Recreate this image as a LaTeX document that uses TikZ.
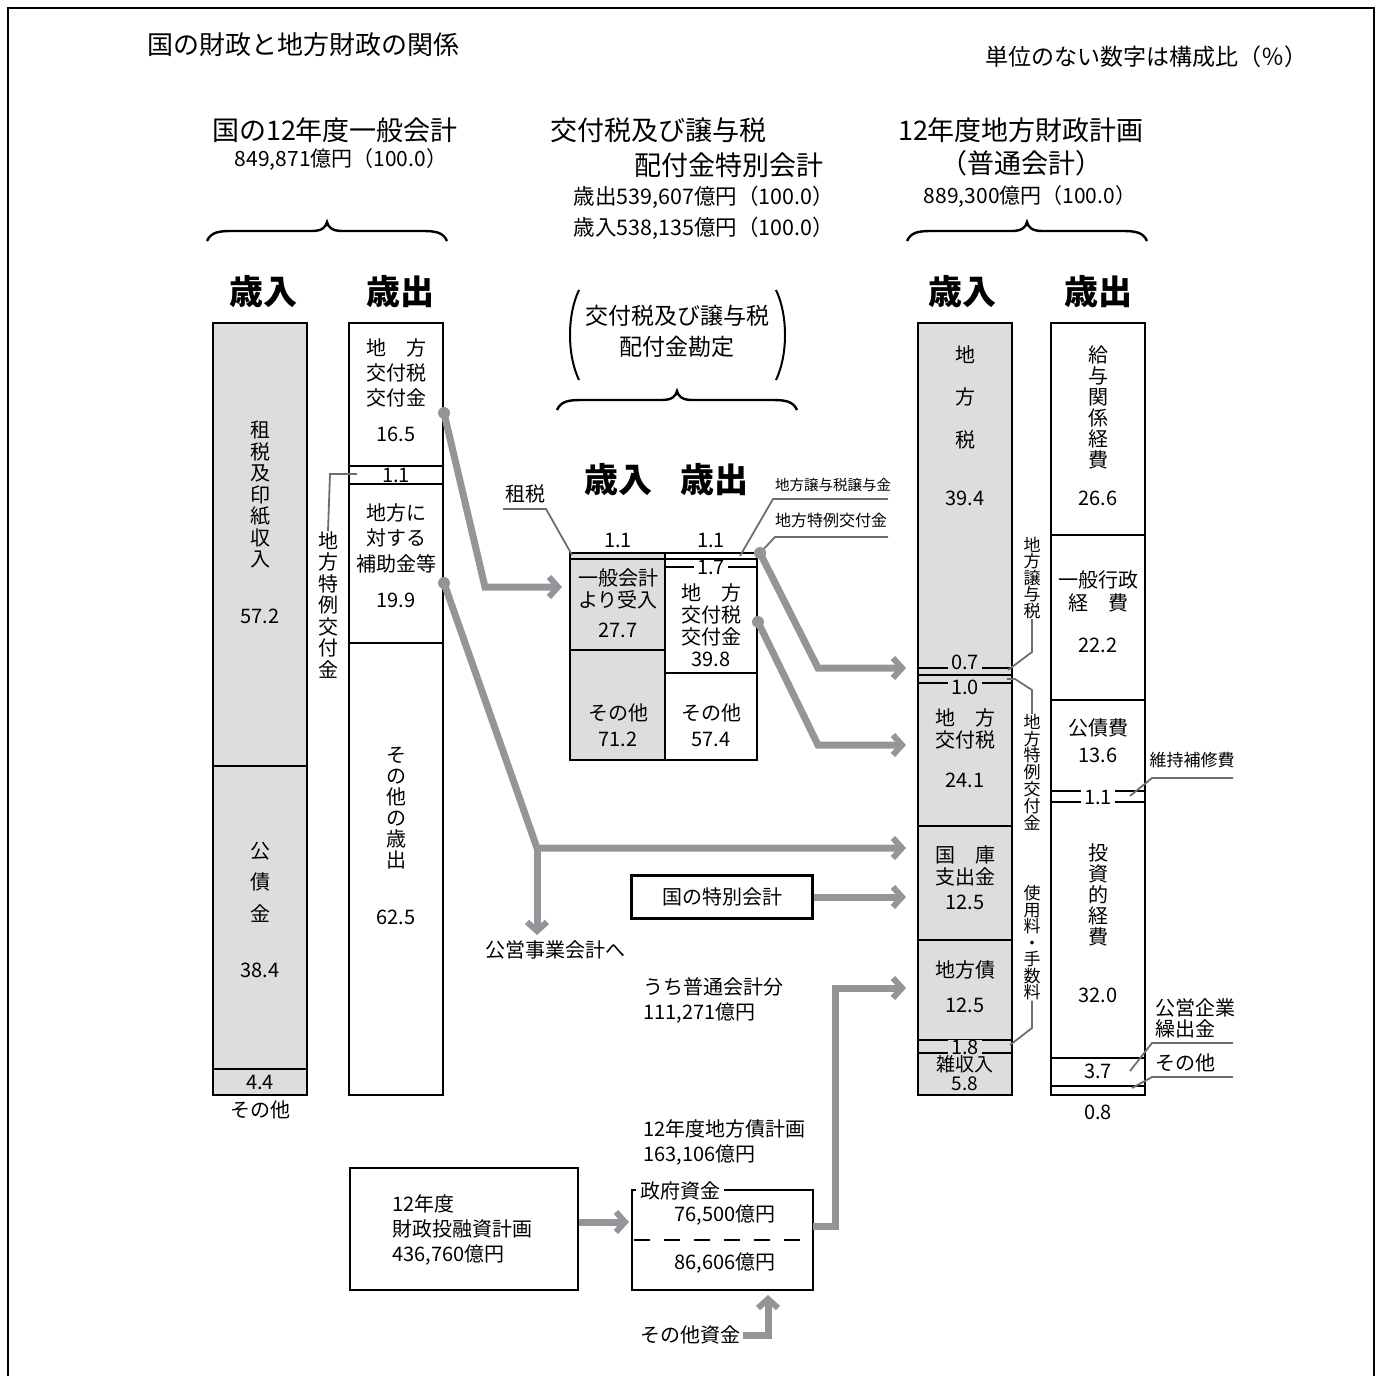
\documentclass[tikz,border=0pt]{standalone}
\usepackage{fontspec}
\setmainfont{Noto Sans CJK JP}
\usetikzlibrary{arrows.meta}
\definecolor{colfill}{HTML}{DCDDDF}
\definecolor{arrgray}{HTML}{939598}
\definecolor{leadgray}{HTML}{6D6E71}
\tikzset{
  txt/.style={inner sep=0pt, align=center, font=\fontsize{20}{25}\selectfont},
  small/.style={inner sep=0pt, align=left, font=\fontsize{16}{18}\selectfont},
  head/.style={inner sep=0pt, align=center, font=\fontsize{27}{30}\selectfont},
  big/.style={inner sep=0pt, font=\fontsize{34}{34}\selectfont\bfseries},
  colbox/.style={draw=black, line width=2.6pt},
  divline/.style={draw=black, line width=2.6pt},
  garrow/.style={draw=arrgray, line width=7pt, line join=miter,
     -{Straight Barb[length=9pt,width=20pt,line width=6pt]}},
  lead/.style={draw=leadgray, line width=1.8pt},
  gdot/.style={circle, fill=arrgray, minimum size=12pt, inner sep=0pt},
  topbrace/.pic={\draw[line width=2.4pt] (-120,19) .. controls (-116,10) and (-108,9) .. (-95,9) -- (-15,9) .. controls (-5,9) and (-1,5) .. (0,0) .. controls (1,5) and (5,9) .. (15,9) -- (95,9) .. controls (108,9) and (116,10) .. (120,19);}
}
\begin{document}
\begin{tikzpicture}[x=1pt,y=-1pt]
\useasboundingbox (0,0) rectangle (1382,1376);
% frame
\draw[line width=1.5pt] (8,1380) -- (8,8) -- (1374,8) -- (1374,1380);

% titles
\node[txt, font=\fontsize{26}{28}\selectfont] (title) at (303,45) {国の財政と地方財政の関係};
\node[txt, font=\fontsize{23}{26}\selectfont] (unit) at (1146,57) {単位のない数字は構成比（％）};

\node[head] (h1) at (335,130) {国の12年度一般会計};
\node[txt, font=\fontsize{21}{25}\selectfont] (h1b) at (341,160) {849,871億円（100.0）};
\node[head] (h2a) at (658,130) {交付税及び譲与税};
\node[head] (h2b) at (729,165) {配付金特別会計};
\node[txt, font=\fontsize{21.5}{25}\selectfont] (h2c) at (704,197) {歳出539,607億円（100.0）};
\node[txt, font=\fontsize{21.5}{25}\selectfont] (h2d) at (704,228) {歳入538,135億円（100.0）};
\node[head] (h3a) at (1021,130) {12年度地方財政計画};
\node[head] (h3b) at (1021,163) {（普通会計）};
\node[txt, font=\fontsize{21}{25}\selectfont] (h3c) at (1030,197) {889,300億円（100.0）};

\pic at (327,222) {topbrace};
\pic at (1027,222) {topbrace};
\pic at (677,391) {topbrace};

\node[big] (lin) at (263,292) {歳入};
\node[big] (lout) at (400,292) {歳出};
\node[big] (rin) at (962,292) {歳入};
\node[big] (rout) at (1098,292) {歳出};
\node[big] (min) at (618,480) {歳入};
\node[big] (mout) at (714,480) {歳出};

% middle paren label
\node[txt, font=\fontsize{23}{31}\selectfont] (mlab) at (677,331) {交付税及び譲与税\\配付金勘定};
\draw[line width=2pt] (579,290) .. controls (567,315) and (567,355) .. (579,380);
\draw[line width=2pt] (776,290) .. controls (788,315) and (788,355) .. (776,380);

% ===== left columns =====
\fill[colfill] (213,323) rectangle (307,1095);
\draw[divline] (213,766) -- (307,766);
\draw[divline] (213,1069) -- (307,1069);
\draw[colbox] (213,323) rectangle (307,1095);
\node[txt, font=\fontsize{20}{21.5}\selectfont] (l1) at (260,495) {租\\税\\及\\印\\紙\\収\\入};
\node[txt] (l1n) at (260,616) {57.2};
\node[txt, font=\fontsize{20}{31.5}\selectfont] (l2) at (260,882) {公\\債\\金};
\node[txt] (l2n) at (260,970) {38.4};
\node[txt] (l3n) at (260,1082) {4.4};
\node[txt] (l3) at (260,1110) {その他};

\draw[divline] (349,466) -- (443,466);
\draw[divline] (349,484) -- (443,484);
\draw[divline] (349,643) -- (443,643);
\draw[colbox] (349,323) rectangle (443,1095);
\node[txt] (e1) at (396,373) {地　方\\交付税\\交付金};
\node[txt] (e1n) at (396,434) {16.5};
\node[txt, fill=white, inner xsep=3pt, inner ysep=0pt] (e2n) at (396,475) {1.1};
\node[txt, font=\fontsize{20}{25.5}\selectfont] (e3) at (396,538) {地方に\\対する\\補助金等};
\node[txt] (e3n) at (396,600) {19.9};
\node[txt, font=\fontsize{20}{21}\selectfont] (e4) at (396,808) {そ\\の\\他\\の\\歳\\出};
\node[txt] (e4n) at (396,917) {62.5};

\node[txt, font=\fontsize{20}{21.5}\selectfont] (ltok) at (328,605) {地\\方\\特\\例\\交\\付\\金};
\coordinate (ltokA) at (357,474);
\draw[lead] (ltokA) -- (330,474) -- (ltok.north);

% ===== middle table =====
\fill[colfill] (570,553) rectangle (665,760);
\draw[divline] (570,559) -- (757,559);
\draw[divline] (665,567) -- (757,567);
\draw[divline] (570,650) -- (665,650);
\draw[divline] (665,673) -- (757,673);
\draw[divline] (665,553) -- (665,760);
\draw[colbox] (570,553) rectangle (757,760);
\node[txt] (m11) at (618,540) {1.1};
\node[txt] (m12) at (711,540) {1.1};
\node[txt, font=\fontsize{20}{22}\selectfont] (m2) at (618,589) {一般会計\\より受入};
\node[txt] (m2n) at (618,630) {27.7};
\node[txt, font=\fontsize{20}{26}\selectfont] (m3) at (618,725) {その他\\71.2};
\node[txt, fill=white, inner xsep=3pt] (m4n) at (711,567) {1.7};
\node[txt, font=\fontsize{20}{22}\selectfont] (m5) at (711,625) {地　方\\交付税\\交付金\\39.8};
\node[txt, font=\fontsize{20}{26}\selectfont] (m6) at (711,725) {その他\\57.4};

\node[txt] (sozei) at (525,494) {租税};
\coordinate (sozeiA) at (572,555);
\draw[lead] (503,509) -- (546,509) -- (sozeiA);
\node[small, anchor=west, font=\fontsize{14.5}{16}\selectfont] (jyoyo) at (775,485) {地方譲与税譲与金};
\coordinate (jyoyoA) at (740,556);
\draw[lead] (888,499) -- (773,499) -- (jyoyoA);
\node[small, anchor=west] (tokrei) at (775,520) {地方特例交付金};
\coordinate (tokreiA) at (760,553);
\draw[lead] (888,537) -- (775,537) -- (tokreiA);

% ===== right columns =====
\fill[colfill] (918,323) rectangle (1012,1095);
\foreach \yy in {668,675,683,826,940,1040,1053} \draw[divline] (918,\yy) -- (1012,\yy);
\draw[colbox] (918,323) rectangle (1012,1095);
\node[txt, font=\fontsize{20}{42.5}\selectfont] (r1) at (965,397) {地\\方\\税};
\node[txt] (r1n) at (965,498) {39.4};
\node[txt, fill=colfill, inner xsep=3pt] (r2n) at (965,662) {0.7};
\node[txt, fill=colfill, inner xsep=3pt] (r3n) at (965,687) {1.0};
\node[txt, font=\fontsize{20}{22}\selectfont] (r4) at (965,729) {地　方\\交付税};
\node[txt] (r4n) at (965,780) {24.1};
\node[txt, font=\fontsize{20}{22}\selectfont] (r5) at (965,866) {国　庫\\支出金};
\node[txt] (r5n) at (965,902) {12.5};
\node[txt] (r6) at (965,970) {地方債};
\node[txt] (r6n) at (965,1005) {12.5};
\node[txt, fill=colfill, inner xsep=3pt] (r7n) at (965,1047) {1.8};
\node[txt, font=\fontsize{19}{18.5}\selectfont] (r8) at (965,1073) {雑収入\\5.8};

\node[txt, font=\fontsize{17}{16.5}\selectfont] (rjy) at (1032,578) {地\\方\\譲\\与\\税};
\coordinate (rjyA) at (1008,670);
\draw[lead] (rjy.south) -- (1032,652) -- (rjyA);
\node[txt, font=\fontsize{17}{16.8}\selectfont] (rtk) at (1032,772) {地\\方\\特\\例\\交\\付\\金};
\coordinate (rtkA) at (1007,679);
\draw[lead] (rtkA) -- (1015,679) -- (1032,690) -- (rtk.north);
\node[txt, font=\fontsize{17}{16.5}\selectfont] (rsy) at (1032,943) {使\\用\\料\\・\\手\\数\\料};
\coordinate (rsyA) at (1010,1045);
\draw[lead] (rsy.south) -- (1032,1028) -- (rsyA);

\foreach \yy in {535,700,791,802,1058,1086} \draw[divline] (1051,\yy) -- (1145,\yy);
\draw[colbox] (1051,323) rectangle (1145,1095);
\node[txt, font=\fontsize{20}{21}\selectfont] (o1) at (1098,407) {給\\与\\関\\係\\経\\費};
\node[txt] (o1n) at (1098,498) {26.6};
\node[txt, font=\fontsize{20}{23}\selectfont] (o2) at (1098,591) {一般行政\\経　費};
\node[txt] (o2n) at (1098,645) {22.2};
\node[txt] (o3) at (1098,728) {公債費};
\node[txt] (o3n) at (1098,755) {13.6};
\node[txt, fill=white, inner xsep=3pt] (o4n) at (1098,797) {1.1};
\node[txt, font=\fontsize{20}{21}\selectfont] (o5) at (1098,895) {投\\資\\的\\経\\費};
\node[txt] (o5n) at (1098,995) {32.0};
\node[txt] (o6n) at (1098,1071) {3.7};
\node[txt] (o7n) at (1098,1112) {0.8};

\node[txt, font=\fontsize{17}{20}\selectfont] (iji) at (1192,760) {維持補修費};
\coordinate (ijiA) at (1130,796);
\draw[lead] (1233,778) -- (1152,778) -- (ijiA);
\node[txt, anchor=west, align=left, font=\fontsize{20}{21}\selectfont] (kuri) at (1155,1018) {公営企業\\繰出金};
\coordinate (kuriA) at (1130,1071);
\draw[lead] (1233,1043) -- (1152,1043) -- (kuriA);
\node[txt, anchor=west] (rsono) at (1155,1063) {その他};
\coordinate (rsonoA) at (1132,1088);
\draw[lead] (1233,1077) -- (1152,1077) -- (rsonoA);

% ===== lower middle =====
\node[txt, draw, line width=2.6pt, minimum width=181pt, minimum height=43pt] (tokubetsu) at (722,897) {国の特別会計};
\node[txt] (koei) at (555,950) {公営事業会計へ};
\node[txt, anchor=west, align=left] (uchi) at (643,1000) {うち普通会計分\\111,271億円};
\node[txt, anchor=west, align=left] (kisai) at (643,1142) {12年度地方債計画\\163,106億円};

\node[txt, draw, line width=2.6pt, minimum width=228pt, minimum height=122pt] (zaito) at (464,1229) {};
\node[txt, anchor=west, align=left] (zaitoT) at (392,1230) {12年度\\財政投融資計画\\436,760億円};

\draw[line width=2.6pt] (632,1190) rectangle (813,1290);
\node[inner sep=0pt, minimum width=181pt, minimum height=100pt] (bond) at (722.5,1240) {};
\draw[line width=2.6pt, dash pattern=on 16pt off 14pt] (634,1240) -- (813,1240);
\node[txt, fill=white, inner xsep=4pt, inner ysep=2pt] (seifu) at (680,1191) {政府資金};
\node[txt] (b1) at (725,1215) {76,500億円};
\node[txt] (b2) at (725,1263) {86,606億円};
\node[txt] (sonota) at (690,1335) {その他資金};

% ===== gray arrows =====
\coordinate (d1) at (444,413);
\coordinate (d2) at (444,583);
\coordinate (d3) at (760,553);
\coordinate (d4) at (758,622);
\coordinate (t1) at (562,587);
\coordinate (t2) at (906,848);
\coordinate (t2b) at (537,935);
\coordinate (t3) at (906,668);
\coordinate (t4) at (906,745);
\coordinate (t5) at (906,897);
\coordinate (t6) at (906,988);
\coordinate (t7) at (629,1222);
\coordinate (t8) at (768,1295);

\draw[garrow] (d1) -- (485,587) -- (t1);
\draw[garrow] (d2) -- (537,848) -- (t2);
\draw[garrow] (537,846) -- (t2b);
\draw[garrow] (d3) -- (818,668) -- (t3);
\draw[garrow] (d4) -- (818,745) -- (t4);
\draw[garrow] (tokubetsu.east) -- (t5);
\draw[garrow] (813,1226) -- (835,1226) -- (835,988) -- (t6);
\draw[garrow] (zaito.east |- t7) -- (t7);
\draw[garrow] (sonota.east) ++(3,0) -- (768,1335) -- (t8);
\foreach \p in {d1,d2,d3,d4} \node[gdot] at (\p) {};
\end{tikzpicture}
\end{document}
